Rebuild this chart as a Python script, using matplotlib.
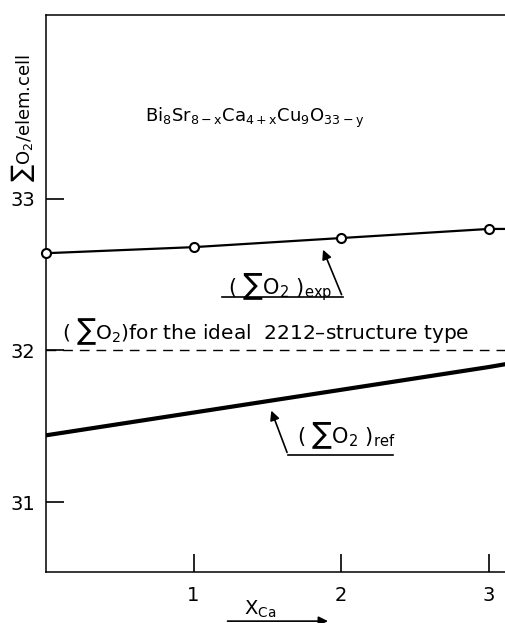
import numpy as np
import matplotlib.pyplot as plt

plt.rcParams['font.family'] = ['DejaVu Sans']
plt.rcParams['mathtext.default'] = 'regular'

# values
x_exp = [0, 1, 2, 3, 3.12]
o2_exp = [32.64, 32.68, 32.74, 32.80, 32.80]
show_marker = [True, True, True, True, False]
x_ref = [0, 1, 2, 3, 3.12]
o2_ref = [31.44, 31.59, 31.74, 31.89, 31.91]
ideal_level = 32.0
xticks = [1, 2, 3]
yticks = [31, 32, 33]

fig = plt.figure(figsize=(5.05, 6.23), dpi=100)
ax = fig.add_axes([0.091, 0.082, 0.909, 0.894])
ax.set_xlim(0, 3.11)
ax.set_ylim(30.54, 34.21)

ax.plot(x_exp, o2_exp, color='black', lw=1.6, zorder=3)
mx = [x for x, m in zip(x_exp, show_marker) if m]
my = [y for y, m in zip(o2_exp, show_marker) if m]
ax.plot(mx, my, 'o', ms=6.5, mfc='white', mec='black', mew=1.5, zorder=4, clip_on=False)
ax.plot(x_ref, o2_ref, color='black', lw=3, zorder=3)
ax.axhline(ideal_level, color='black', lw=1, dashes=(7, 5))

ax.set_xticks(xticks)
ax.set_yticks(yticks)
ax.tick_params(direction='in', length=13, width=1.2, labelsize=14, pad=8)
ax.tick_params(axis='x', pad=10)
ax.spines['right'].set_visible(False)
for s in ['left', 'bottom', 'top']:
    ax.spines[s].set_linewidth(1.1)

ax.text(0.67, 33.53, r'$Bi_8Sr_{8-x}Ca_{4+x}Cu_9O_{33-y}$', fontsize=13, va='center')
fig.text(0.045, 0.81, '∑O$_2$/elem.cell', rotation=90, fontsize=13, ha='center', va='center')

ax.text(0.11, 32.12, '( ∑O$_2$)for the ideal  2212–structure type', fontsize=14.5, va='center')

# (sum O2)exp label with underline and arrow
ax.text(1.23, 32.42, '( ∑O$_2$ )$_{exp}$', fontsize=15, va='center')
ax.plot([1.19, 2.01], [32.35, 32.35], color='black', lw=1.2)
ax.annotate('', xy=(1.87, 32.68), xytext=(2.01, 32.35),
            arrowprops=dict(arrowstyle='-|>', color='black', lw=1.2, mutation_scale=14))

# (sum O2)ref label with underline and arrow
ax.text(1.70, 31.44, '( ∑O$_2$ )$_{ref}$', fontsize=15, va='center')
ax.plot([1.64, 2.35], [31.31, 31.31], color='black', lw=1.2)
ax.annotate('', xy=(1.52, 31.62), xytext=(1.64, 31.31),
            arrowprops=dict(arrowstyle='-|>', color='black', lw=1.2, mutation_scale=14))

fig.text(0.515, 0.022, r'$X_{Ca}$', fontsize=14, ha='center', va='center')
ax.annotate('', xy=(0.655, 0.003), xytext=(0.445, 0.003),
            xycoords='figure fraction', textcoords='figure fraction', annotation_clip=False,
            arrowprops=dict(arrowstyle='-|>', color='black', lw=1.2, mutation_scale=14))

fig.savefig('out.png', dpi=100)
